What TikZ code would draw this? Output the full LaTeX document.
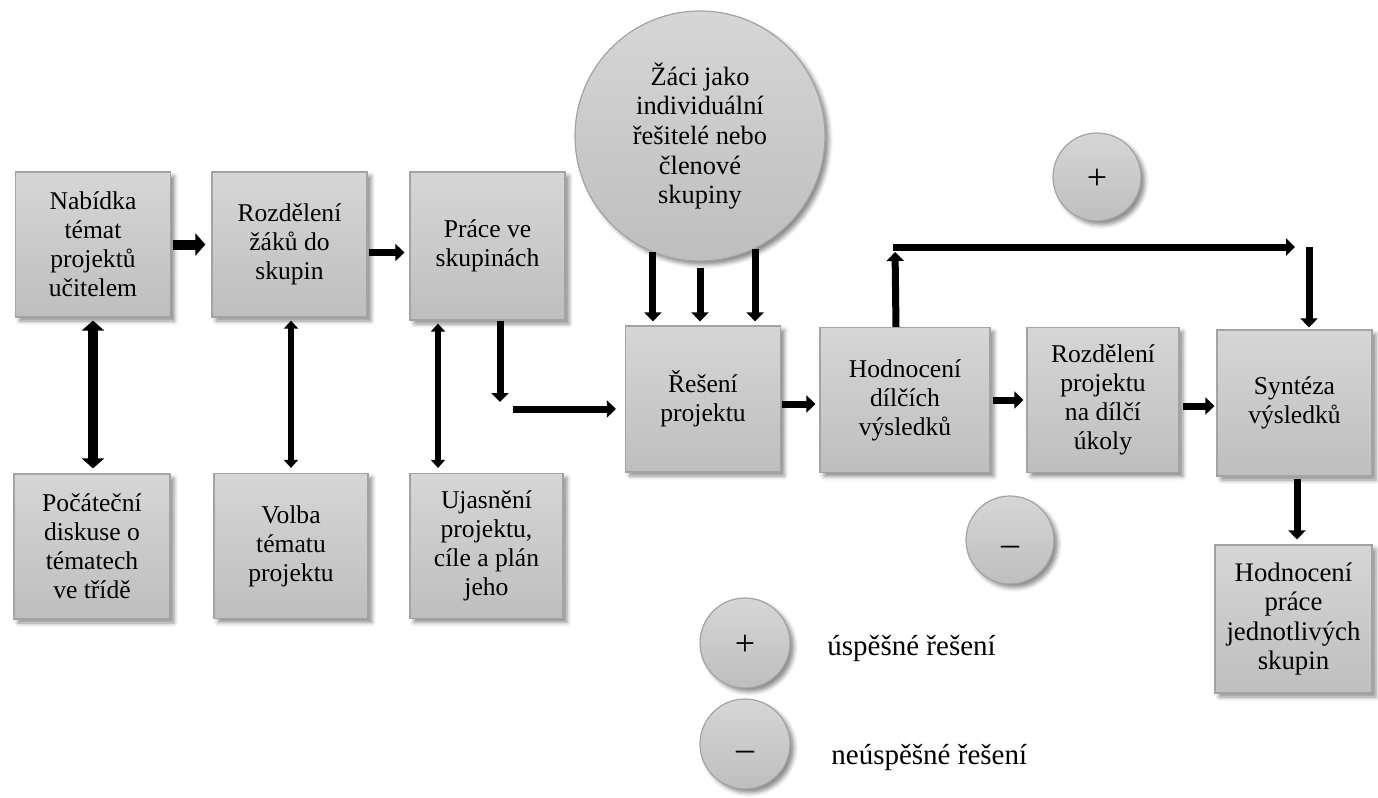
\documentclass[tikz,border=0pt]{standalone}
\usepackage{fontspec}
\setmainfont{Liberation Serif}
\usetikzlibrary{arrows.meta,calc,shadows.blur}
\definecolor{boxtop}{HTML}{D6D6D6}
\definecolor{boxbot}{HTML}{BEBEBE}
\definecolor{boxline}{HTML}{A3A3A3}
\begin{document}
\begin{tikzpicture}[x=0.5pt,y=-0.5pt,
  box/.style={rectangle,draw=boxline,line width=0.6pt,top color=boxtop,bottom color=boxbot,
    align=center,inner sep=1pt,minimum width=77.5pt,minimum height=72.5pt,
    font=\fontsize{12.8}{14.5}\selectfont,
    blur shadow={shadow xshift=2pt,shadow yshift=-2pt,shadow blur radius=2pt,shadow opacity=45}},
  disc/.style={circle,draw=boxline,line width=0.6pt,top color=boxtop,bottom color=boxbot,
    align=center,inner sep=0pt,font=\fontsize{13.2}{14.8}\selectfont,
    blur shadow={shadow xshift=2pt,shadow yshift=-2pt,shadow blur radius=2pt,shadow opacity=45}},
  sign/.style={font=\fontsize{18}{18}\selectfont},
  legend/.style={anchor=west,inner sep=0pt,font=\fontsize{14.5}{16}\selectfont},
  fat/.style={line width=5pt,-{Triangle[width=11pt,length=5pt]}},
  fatboth/.style={line width=5pt,{Triangle[width=11pt,length=5pt]}-{Triangle[width=11pt,length=5pt]}},
  arr/.style={line width=3.5pt,-{Triangle[width=8.5pt,length=4.5pt]}},
  thinboth/.style={line width=2.8pt,{Triangle[width=7pt,length=4pt]}-{Triangle[width=7pt,length=4pt]}}]
\useasboundingbox (0,0) rectangle (1378,798);

\node[box] (nab) at (93,244.5) {Nabídka\\témat\\projektů\\učitelem};
\node[box] (roz) at (289.5,244.5) {Rozdělení\\žáků do\\skupin};
\node[box,minimum height=74pt] (prace) at (487.5,246) {Práce ve\\skupinách};
\node[box,minimum height=73pt] (res) at (703,399) {Řešení\\projektu};
\node[box,minimum width=85pt] (hod) at (905,400) {Hodnocení\\dílčích\\výsledků};
\node[box,minimum width=76pt] (rozp) at (1103,400) {Rozdělení\\projektu\\na dílčí\\úkoly};
\node[box,minimum height=73pt] (syn) at (1294.5,403) {Syntéza\\výsledků};
\node[box,minimum width=78pt] (poc) at (92,546.5) {Počáteční\\diskuse o\\tématech\\ve třídě};
\node[box,minimum width=77pt] (vol) at (291,546) {Volba\\tématu\\projektu};
\node[box,minimum width=76.5pt] (uja) at (486.5,546) {Ujasnění\\projektu,\\cíle a plán\\jeho};
\node[box,minimum width=78.5pt,minimum height=74pt,font=\fontsize{13.4}{14.8}\selectfont] (hpr) at (1293.5,619) {Hodnocení\\práce\\jednotlivých\\skupin};

\node[disc,minimum size=125pt] (zaci) at (700,136) {Žáci jako\\individuální\\řešitelé nebo\\členové\\skupiny};
\node[disc,sign,minimum size=44pt] (plus) at (1097,177) {\raisebox{-6pt}[0pt][0pt]{+}};
\node[disc,sign,minimum size=44pt] (minus) at (1010,540) {\raisebox{-7.5pt}[0pt][0pt]{–}};
\node[disc,sign,minimum size=45pt] (lplus) at (745,643) {\raisebox{-6pt}[0pt][0pt]{+}};
\node[disc,sign,minimum size=45pt] (lminus) at (745,744) {\raisebox{-8pt}[0pt][0pt]{–}};
\node[legend] (lplustext) at (827,648) {úspěšné řešení};
\node[legend] (lminustext) at (831,757) {neúspěšné řešení};

\coordinate (c1) at (500,402);
\coordinate (c2) at (513,409);
\coordinate (tl) at (895,247);
\coordinate (tr) at (1309,247);

\draw[fat,shorten <=1pt,shorten >=3pt] (nab) -- (roz);
\draw[arr,shorten <=0.5pt,shorten >=2.5pt] ([yshift=-4pt]roz.east) -- ([yshift=-4pt]roz.east -| prace.west);
\draw[fatboth,shorten <=1.5pt,shorten >=2.5pt] (nab.south) -- (nab.south |- poc.north);
\draw[thinboth,shorten <=1.5pt,shorten >=2.5pt] ([xshift=0.75pt]roz.south) -- ([xshift=0.75pt]roz.south |- vol.north);
\draw[thinboth,shorten <=1.5pt,shorten >=2.5pt] ([xshift=-24.75pt]prace.south) -- ([xshift=-24.75pt]prace.south |- uja.north);
\draw[arr] ([xshift=6.25pt]prace.south) -- (c1);
\draw[arr,shorten >=4.5pt] (c2) -- (c2 -| res.west);
\draw[arr,shorten >=2pt] (zaci.248.9) -- (zaci.248.9 |- res.north);
\draw[arr,shorten >=2pt] ([yshift=-3pt]zaci.south) -- (zaci.south |- res.north);
\draw[arr,shorten >=2pt] (zaci.296.2) -- (zaci.296.2 |- res.north);
\draw[arr,shorten <=0.5pt,shorten >=2pt] ([yshift=-2.5pt]res.east) -- ([yshift=-2.5pt]res.east -| hod.west);
\draw[arr,shorten <=1pt,shorten >=1.5pt] (hod) -- (rozp);
\draw[arr,shorten <=1.5pt,shorten >=1pt] ([yshift=-3pt]rozp.east) -- ([yshift=-3pt]rozp.east -| syn.west);
\draw[arr,shorten <=1pt,shorten >=2.5pt] ([xshift=1.25pt]syn.south) -- ([xshift=1.25pt]syn.south |- hpr.north);
\draw[arr,shorten >=2.5pt] ([xshift=-4.5pt]hod.north) -- (tl);
\draw[arr,shorten <=-1pt,shorten >=7pt] (tl) -- (tr);
\draw[arr,shorten >=1pt] (tr) -- (tr |- syn.north);
\end{tikzpicture}
\end{document}
